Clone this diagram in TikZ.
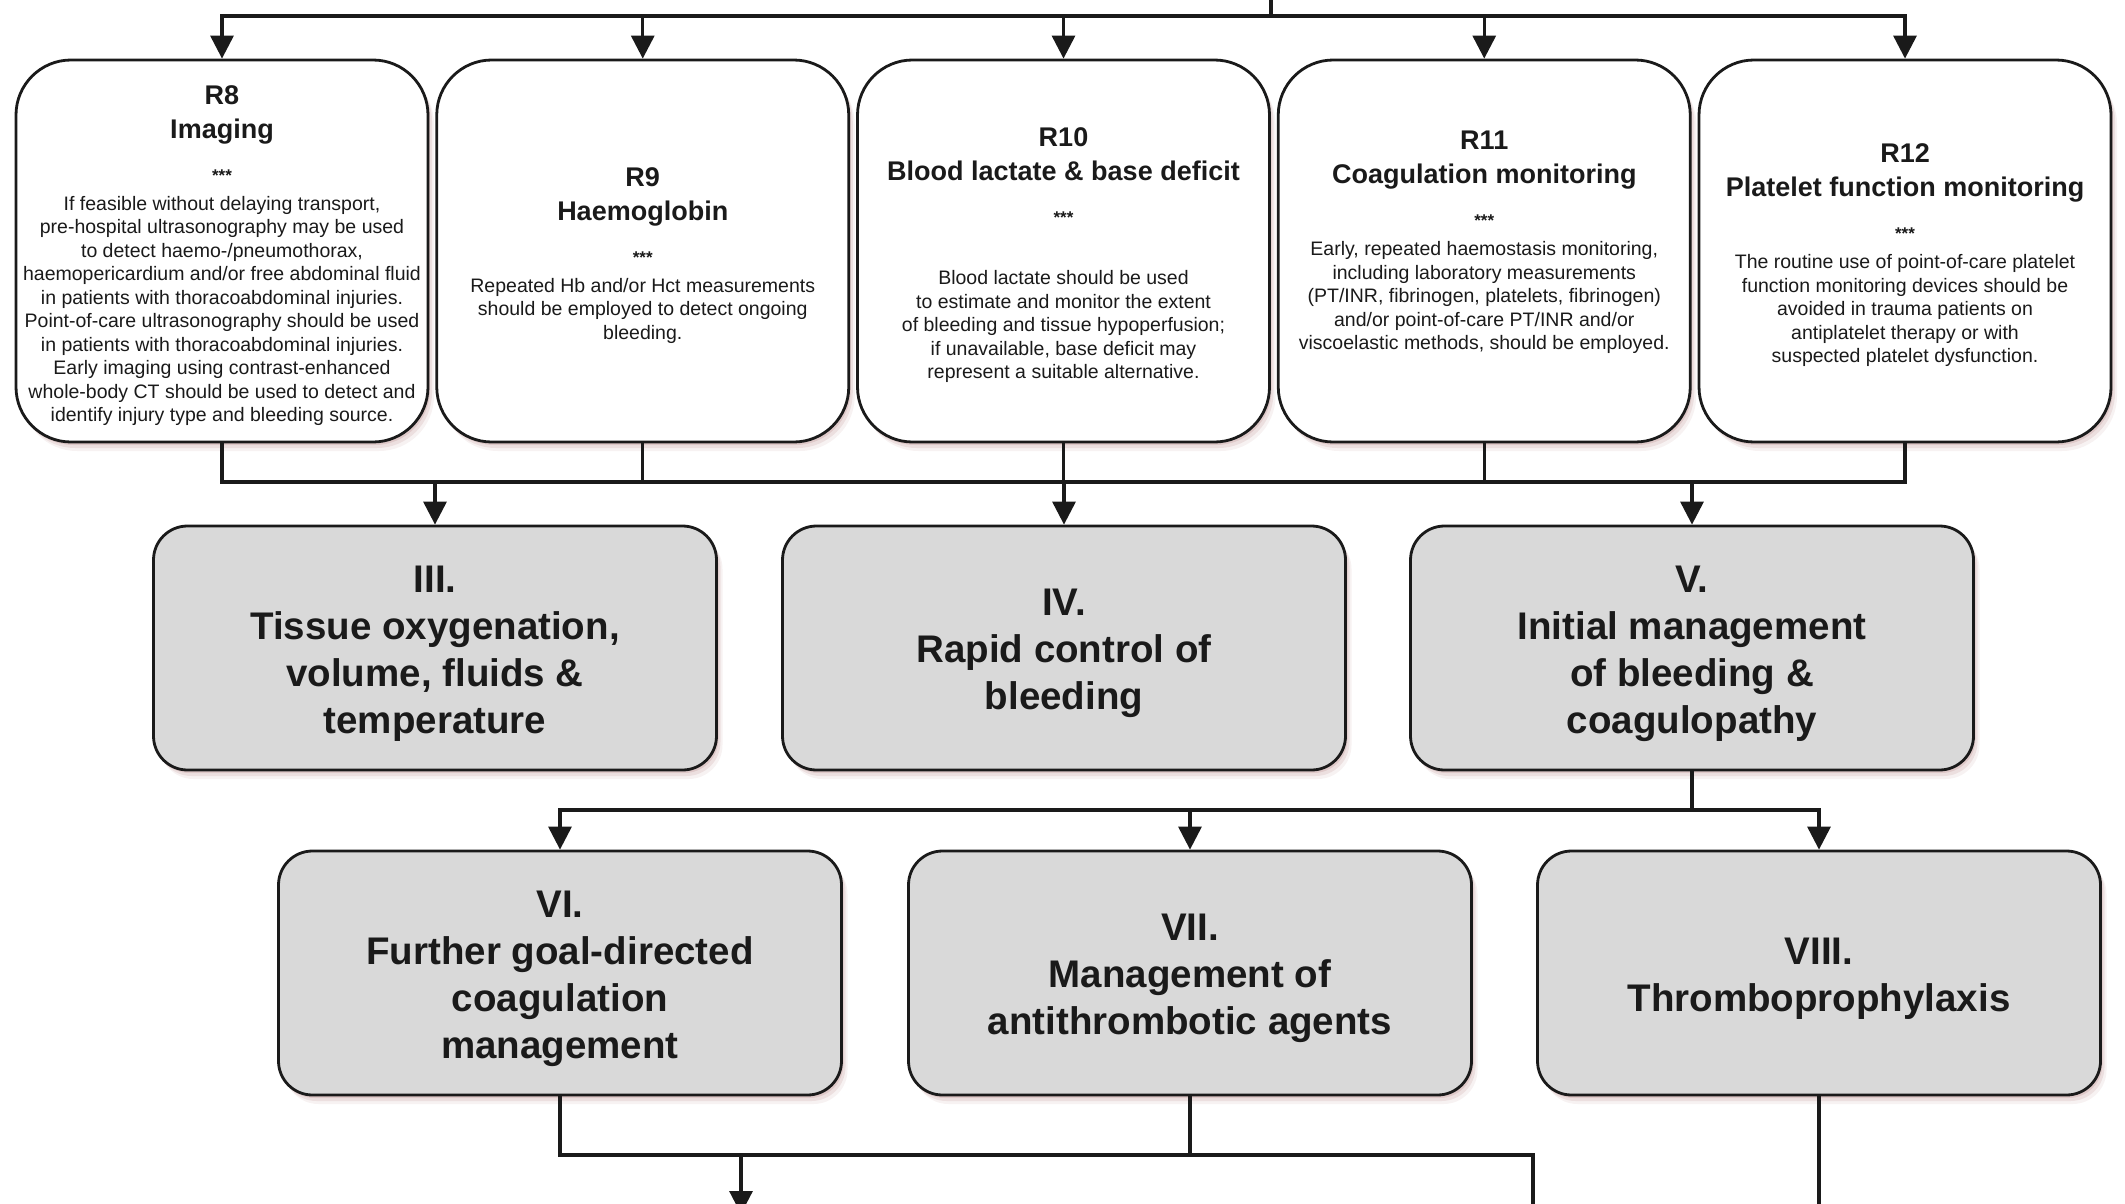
\documentclass[tikz,border=0pt]{standalone}
\usepackage{fontspec}
\setmainfont{Liberation Sans}
\usetikzlibrary{arrows.meta,shadows}
\definecolor{boxgray}{HTML}{D9D9D9}
\definecolor{shadered}{HTML}{9A5858}
\definecolor{ink}{HTML}{1A1A1A}
\newcommand\rtitle{\fontsize{27}{33}\selectfont\bfseries}
\newcommand\rstars{\fontsize{17}{20}\selectfont\bfseries}
% struts that lower the first line of a box a little
\newcommand\rtop{\rule{0pt}{28pt}}
\newcommand\ptop{\rule{0pt}{38pt}}
\begin{document}
\begin{tikzpicture}[x=1pt,y=-1pt,
  softshadow/.style={
    drop shadow={shadow xshift=2pt,shadow yshift=-3pt,fill=shadered,opacity=0.16},
    drop shadow={shadow xshift=4pt,shadow yshift=-6pt,fill=shadered,opacity=0.12},
    drop shadow={shadow xshift=6pt,shadow yshift=-9pt,fill=shadered,opacity=0.08}},
  recbox/.style={draw=ink, line width=2.8pt, fill=white, rounded corners=55pt,
    minimum width=412pt, minimum height=382pt, inner sep=0pt, align=center,
    font=\fontsize{19.5}{23.5}\selectfont, text=ink, softshadow},
  phasebox/.style={draw=ink, line width=2.8pt, fill=boxgray, rounded corners=34pt,
    minimum width=563pt, minimum height=244pt, inner sep=0pt, align=center,
    font=\fontsize{38.5}{47}\selectfont\bfseries, text=ink, softshadow},
  conn/.style={draw=ink, line width=3.2pt},
  arr/.style={conn, -{Triangle[width=23pt,length=23pt]}},
]
\useasboundingbox (0,0) rectangle (2125,1204);

% recommendation boxes R8--R12
\node[recbox] (r8) at (222,251) {\rtop\rtitle R8\\[10.5pt]\rtitle Imaging\\[19.5pt]\rstars ***\\[5.5pt]
  If feasible without delaying transport,\\
  pre-hospital ultrasonography may be used\\
  to detect haemo-/pneumothorax,\\
  haemopericardium and/or free abdominal fluid\\
  in patients with thoracoabdominal injuries.\\
  Point-of-care ultrasonography should be used\\
  in patients with thoracoabdominal injuries.\\
  Early imaging using contrast-enhanced\\
  whole-body CT should be used to detect and\\
  identify injury type and bleeding source.};
\node[recbox] (r9) at (642.75,251) {\rtop\rtitle R9\\[10.5pt]\rtitle Haemoglobin\\[19.5pt]\rstars ***\\[5.5pt]
  Repeated Hb and/or Hct measurements\\
  should be employed to detect ongoing\\
  bleeding.};
\node[recbox] (r10) at (1063.5,251) {\rtop\rtitle R10\\[10.5pt]\rtitle Blood lactate \& base deficit\\[19.5pt]\rstars ***\\[37.5pt]
  Blood lactate should be used\\
  to estimate and monitor the extent\\
  of bleeding and tissue hypoperfusion;\\
  if unavailable, base deficit may\\
  represent a suitable alternative.};
\node[recbox] (r11) at (1484.25,251) {\rtop\rtitle R11\\[10.5pt]\rtitle Coagulation monitoring\\[19.5pt]\rstars ***\\[5.5pt]
  Early, repeated haemostasis monitoring,\\
  including laboratory measurements\\
  (PT/INR, fibrinogen, platelets, fibrinogen)\\
  and/or point-of-care PT/INR and/or\\
  viscoelastic methods, should be employed.\\[7pt]\mbox{}};
\node[recbox] (r12) at (1905,251) {\rtop\rtitle R12\\[10.5pt]\rtitle Platelet function monitoring\\[19.5pt]\rstars ***\\[5.5pt]
  The routine use of point-of-care platelet\\
  function monitoring devices should be\\
  avoided in trauma patients on\\
  antiplatelet therapy or with\\
  suspected platelet dysfunction.};

% phase boxes
\node[phasebox] (p3) at (435,648) {\ptop III.\\Tissue oxygenation,\\volume, fluids \&\\temperature};
\node[phasebox] (p4) at (1064,648) {\ptop IV.\\Rapid control of\\bleeding};
\node[phasebox] (p5) at (1692,648) {\ptop V.\\Initial management\\of bleeding \&\\coagulopathy};
\node[phasebox] (p6) at (560,973) {\ptop VI.\\Further goal-directed\\coagulation\\management};
\node[phasebox] (p7) at (1190,973) {\ptop VII.\\Management of\\antithrombotic agents};
\node[phasebox] (p8) at (1819,973) {\ptop VIII.\\Thromboprophylaxis};

% bus levels and free ends
\coordinate (src) at (1271,-8);
\coordinate (busA) at (1271,16);
\coordinate (busB) at (0,482);
\coordinate (busC) at (0,810);
\coordinate (busD) at (0,1155);
\coordinate (outL) at (741,1214);
\coordinate (outR) at (1533,1215);
\coordinate (outV) at (1819,1215);

% incoming line fanning out to R8--R12
\foreach \b in {r8,r9,r10,r11,r12}
  \draw[arr] (src) -- (busA) -| (\b.north);

% R8--R12 gathered into III, IV, V
\draw[conn] (r8.south) |- (r12.south |- busB) -- (r12.south);
\foreach \b in {r9,r10,r11}
  \draw[conn] (\b.south) -- (\b.south |- busB);
\foreach \p in {p3,p4,p5}
  \draw[arr] (\p.north |- busB) -- (\p.north);

% V branching to VI, VII, VIII
\draw[arr] (p5.south) |- (p6.north |- busC) -- (p6.north);
\draw[arr] (p5.south) |- (p8.north |- busC) -- (p8.north);
\draw[arr] (p7.north |- busC) -- (p7.north);

% outgoing lines below
\draw[conn] (p6.south) |- (outR |- busD) -- (outR);
\draw[conn] (p7.south) -- (p7.south |- busD);
\draw[arr] (outL |- busD) -- (outL);
\draw[conn] (p8.south) -- (outV);
\end{tikzpicture}
\end{document}
